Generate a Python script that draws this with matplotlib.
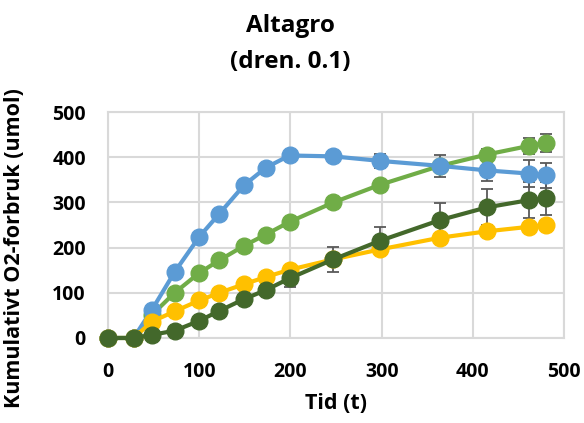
import matplotlib
matplotlib.use("Agg")
import matplotlib.pyplot as plt

plt.rcParams['font.family'] = ['Open Sans', 'DejaVu Sans']

title = "Altagro\n(dren. 0.1)"
x_label = "Tid (t)"
y_label = "Kumulativt O2-forbruk (umol)"

time = [0, 28, 48, 73, 100, 122, 149, 173, 199, 247, 298, 364, 415, 461, 480]

blue = [0, 0, 62, 146, 224, 275, 338, 377, 404, 402, 392, 381, 371, 364, 360]
blue_err = [0, 0, 2, 2, 3, 3, 4, 4, 4, 8, 16, 24, 23, 30, 27]

green = [0, 0, 51, 100, 144, 172, 204, 229, 257, 300, 339, 381, 406, 425, 432]
green_err = [0, 0, 2, 3, 3, 4, 6, 6, 4, 4, 4, 10, 13, 18, 20]

yellow = [0, 0, 36, 59, 83, 100, 119, 135, 151, 174, 196, 222, 236, 246, 250]
yellow_err = [0, 0, 2, 2, 3, 3, 3, 3, 3, 4, 5, 5, 6, 8, 8]

dark = [0, 0, 7, 16, 38, 60, 86, 106, 132, 174, 215, 261, 289, 305, 309]
dark_err = [0, 0, 2, 2, 3, 4, 8, 8, 20, 28, 31, 38, 40, 40, 37]

series = [
    (green, green_err, "#70AD47"),
    (blue, blue_err, "#5B9BD5"),
    (yellow, yellow_err, "#FFC000"),
    (dark, dark_err, "#43682B"),
]

fig = plt.figure(figsize=(5.84, 4.23), dpi=100)
ax = fig.add_axes([0.185, 0.201, 0.781, 0.534])

for vals, err, col in series:
    cont = ax.errorbar(time, vals, yerr=err, color=col, lw=3, marker='o', ms=12,
                       mec=col, mfc=col, ecolor="#595959", elinewidth=1.3,
                       capsize=4, capthick=1.3, zorder=3)
    for art in cont.get_children():
        art.set_clip_on(False)

ax.set_xlim(0, 500)
ax.set_ylim(0, 500)
ax.set_xticks(range(0, 501, 100))
ax.set_yticks(range(0, 501, 100))
ax.grid(True, color="#D9D9D9", lw=1.5, zorder=0)
ax.set_axisbelow(True)
for s in ax.spines.values():
    s.set_color("#D9D9D9")
    s.set_linewidth(1.5)
ax.tick_params(length=0, labelsize=14)
for lab in ax.get_xticklabels() + ax.get_yticklabels():
    lab.set_fontweight('bold')
ax.tick_params(axis='x', pad=17)
ax.tick_params(axis='y', pad=16)

ax.set_xlabel(x_label, fontsize=15.5, fontweight='bold', labelpad=8)
ax.set_ylabel(y_label, fontsize=15.5, fontweight='bold')
ax.yaxis.set_label_coords(-0.182, 0.398)
fig.text(0.497, 0.966, title, ha='center', va='top', fontsize=17.5,
         fontweight='bold', linespacing=1.65)

fig.savefig("out.png", dpi=100)
